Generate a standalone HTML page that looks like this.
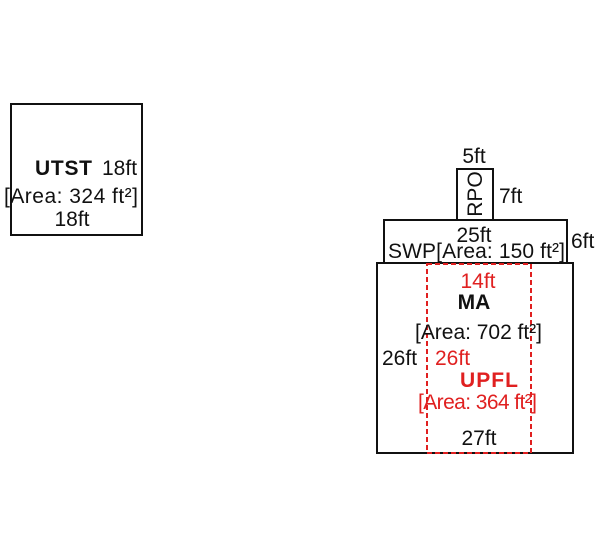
<!DOCTYPE html>
<html><head><meta charset="utf-8"><style>
html,body{margin:0;padding:0;background:#fff;width:600px;height:558px;overflow:hidden}
svg text{font-family:"Liberation Sans",Arial,sans-serif;font-size:21px;fill:#111}
.r{fill:#e02020}
</style></head><body>
<svg width="600" height="558" viewBox="0 0 600 558">
<g fill="none" stroke="#111" stroke-width="2">
<rect x="11" y="104" width="131" height="131"/>
<rect x="457" y="169" width="36" height="51"/>
<rect x="384" y="220" width="183" height="43"/>
<rect x="377" y="263" width="196" height="190"/>
</g>
<rect x="427" y="264" width="104" height="189" fill="none" stroke="#e02020" stroke-width="2" stroke-dasharray="5,3"/>
<text x="35" y="175" font-weight="bold" textLength="57">UTST</text>
<text x="102" y="175">18ft</text>
<text x="4" y="203" textLength="134">[Area: 324 ft²]</text>
<text x="72" y="226" text-anchor="middle">18ft</text>
<text x="474" y="163" text-anchor="middle">5ft</text>
<text x="499" y="203">7ft</text>
<text transform="translate(482,194) rotate(-90)" text-anchor="middle">RPO</text>
<text x="474" y="242" text-anchor="middle">25ft</text>
<text x="388" y="258" textLength="177">SWP[Area: 150 ft²]</text>
<text x="571" y="248">6ft</text>
<text class="r" x="478" y="288" text-anchor="middle">14ft</text>
<text x="474" y="309" text-anchor="middle" font-weight="bold">MA</text>
<text x="415" y="339" textLength="127">[Area: 702 ft²]</text>
<text x="382" y="365">26ft</text>
<text class="r" x="435" y="365">26ft</text>
<text class="r" x="460" y="387" textLength="58" font-weight="bold">UPFL</text>
<text class="r" x="418" y="409" textLength="119">[Area: 364 ft²]</text>
<text x="479" y="445" text-anchor="middle">27ft</text>
</svg>
</body></html>
